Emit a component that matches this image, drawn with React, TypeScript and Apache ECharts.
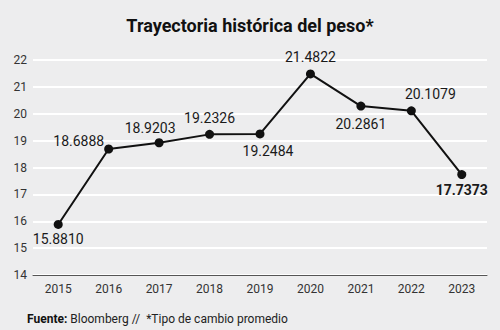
import React, { useEffect, useRef } from "react";
import * as echarts from "echarts";

const categories = ["2015", "2016", "2017", "2018", "2019", "2020", "2021", "2022", "2023"];
const values = [15.881, 18.6888, 18.9203, 19.2326, 19.2484, 21.4822, 20.2861, 20.1079, 17.7373];
const valueLabels = ["15.8810", "18.6888", "18.9203", "19.2326", "19.2484", "21.4822", "20.2861", "20.1079", "17.7373"];
const yTicks = [14, 15, 16, 17, 18, 19, 20, 21, 22];

const FONT = "Roboto, 'Noto Sans', sans-serif";

// label placement per point (style only)
const labelStyles: any[] = [
  { position: "bottom", distance: 3 },
  { position: "left", distance: 0, offset: [0, -8] },
  { position: "top", distance: 3, offset: [-9, 0] },
  { position: "top", distance: 5 },
  { position: "bottom", distance: 6, offset: [8, 0] },
  { position: "top", distance: 5 },
  { position: "bottom", distance: 6 },
  { position: "top", distance: 5, offset: [19, 0] },
  { position: "bottom", distance: 4, fontWeight: "bold" },
];

export default function App() {
  const ref = useRef<HTMLDivElement>(null);
  useEffect(() => {
    if (!ref.current) return;
    const chart = echarts.init(ref.current, undefined, { renderer: "svg" });
    chart.setOption({
      animation: false,
      backgroundColor: "#ededee",
      title: {
        text: "Trayectoria histórica del peso*",
        left: "center",
        top: 11,
        textStyle: { fontFamily: FONT, fontSize: 18, fontWeight: "bold", color: "#111" },
      },
      graphic: [
        {
          type: "text",
          left: 27,
          top: 313,
          style: {
            text: "{b|Fuente:} Bloomberg //  *Tipo de cambio promedio",
            rich: {
              b: { fontFamily: FONT, fontSize: 12, fontWeight: "bold", fill: "#111" },
            },
            fontFamily: FONT,
            fontSize: 12,
            fill: "#222",
          },
        },
      ],
      grid: { left: 33, right: 13, top: 60, bottom: 55 },
      xAxis: {
        type: "category",
        data: categories,
        boundaryGap: true,
        axisLine: { lineStyle: { color: "#555", width: 1 } },
        axisTick: { alignWithLabel: true, length: 4, lineStyle: { color: "#555" } },
        axisLabel: { fontFamily: FONT, fontSize: 12, color: "#333", margin: 8 },
      },
      yAxis: {
        type: "value",
        min: yTicks[0],
        max: yTicks[yTicks.length - 1],
        interval: 1,
        axisLine: { show: false },
        axisTick: { show: false },
        splitLine: { lineStyle: { color: "#ffffff", width: 2 } },
        axisLabel: { fontFamily: FONT, fontSize: 12, color: "#333", margin: 6 },
      },
      series: [
        {
          type: "line",
          data: values.map((v, i) => ({
            value: v,
            label: { ...labelStyles[i], formatter: valueLabels[i] },
          })),
          lineStyle: { color: "#111", width: 2 },
          itemStyle: { color: "#111" },
          symbol: "circle",
          symbolSize: 9,
          label: {
            show: true,
            fontFamily: FONT,
            fontSize: 14,
            color: "#1a1a1a",
          },
        },
      ],
    });
    return () => chart.dispose();
  }, []);
  return (
    <div
      ref={ref}
      style={{ position: "fixed", left: 0, top: 0, width: 500, height: 330 }}
    />
  );
}
